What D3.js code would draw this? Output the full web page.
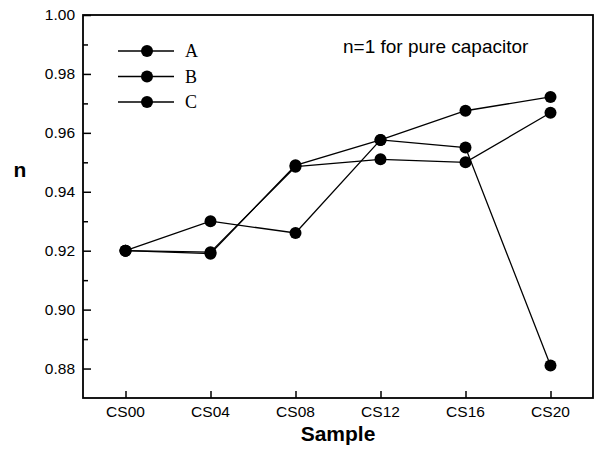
<!DOCTYPE html>
<html>
<head>
<meta charset="utf-8">
<script src="https://cdn.jsdelivr.net/npm/d3@7"></script>
<style>
  body { margin: 0; background: #fff; }
  svg { display: block; }
  .tick-label { font-family: "Liberation Sans", Arial, sans-serif; font-size: 15.5px; fill: #000; }
</style>
</head>
<body>
<div id="chart-container"></div>
<script>
/* n vs sample plot */

const samples = ["CS00", "CS04", "CS08", "CS12", "CS16", "CS20"];
const seriesA = [0.920, 0.919, 0.949, 0.9576, 0.9675, 0.9722];
const seriesB = [0.920, 0.930, 0.926, 0.9576, 0.955, 0.881];
const seriesC = [0.920, 0.9195, 0.9485, 0.951, 0.950, 0.9668];
const seriesNames = ["A", "B", "C"];
const yTicks = [0.88, 0.90, 0.92, 0.94, 0.96, 0.98, 1.00];
const yMinorTicks = [0.89, 0.91, 0.93, 0.95, 0.97, 0.99];

function create_chart() {
  let height = 449,
    width = 598,
    margin = { top: 15, right: 5, bottom: 51, left: 83 };

  const svg = d3
    .select("#chart-container")
    .append("svg")
    .attr("width", width)
    .attr("height", height);

  let x = d3
    .scalePoint()
    .domain(samples)
    .range([margin.left, width - margin.right])
    .padding(0.5);

  let y = d3
    .scaleLinear()
    .domain([0.87, 1.0])
    .range([height - margin.bottom, margin.top]);

  let series = [seriesA, seriesB, seriesC].map((vals, i) => ({
    name: seriesNames[i],
    values: vals.map((v, j) => ({ s: samples[j], v: v })),
  }));

  // frame
  svg
    .append("rect")
    .attr("x", margin.left)
    .attr("y", margin.top)
    .attr("width", width - margin.left - margin.right)
    .attr("height", height - margin.top - margin.bottom)
    .style("fill", "none")
    .style("stroke", "#000")
    .style("stroke-width", 1.8);

  // y axis (ticks inward)
  let yAxis = svg
    .append("g")
    .attr("transform", `translate(${margin.left},0)`)
    .call(
      d3.axisRight(y).tickValues(yTicks).tickSize(8).tickFormat("")
    );
  yAxis.select(".domain").remove();
  yAxis.selectAll("line").style("stroke-width", 1.5);

  let yMinor = svg
    .append("g")
    .attr("transform", `translate(${margin.left},0)`)
    .call(d3.axisRight(y).tickValues(yMinorTicks).tickSize(5).tickFormat(""));
  yMinor.select(".domain").remove();
  yMinor.selectAll("line").style("stroke-width", 1.5);

  svg
    .append("g")
    .selectAll("text")
    .data(yTicks)
    .join("text")
    .attr("class", "tick-label")
    .attr("x", margin.left - 8)
    .attr("y", (d) => y(d))
    .attr("dy", "0.35em")
    .attr("text-anchor", "end")
    .text((d) => d3.format(".2f")(d));

  // x axis (ticks inward)
  let xAxis = svg
    .append("g")
    .attr("transform", `translate(0,${height - margin.bottom})`)
    .call(d3.axisTop(x).tickSize(7).tickFormat(""));
  xAxis.select(".domain").remove();
  xAxis.selectAll("line").style("stroke-width", 1.5);

  svg
    .append("g")
    .selectAll("text")
    .data(samples)
    .join("text")
    .attr("class", "tick-label")
    .attr("x", (d) => x(d))
    .attr("y", height - margin.bottom + 19)
    .attr("text-anchor", "middle")
    .text((d) => d);

  // lines
  let line = d3
    .line()
    .x((d) => x(d.s))
    .y((d) => y(d.v));

  svg
    .append("g")
    .selectAll("path")
    .data(series)
    .join("path")
    .attr("d", (d) => line(d.values))
    .style("fill", "none")
    .style("stroke", "#000")
    .style("stroke-width", 1.3);

  svg
    .append("g")
    .selectAll("circle")
    .data(series.flatMap((d) => d.values))
    .join("circle")
    .attr("cx", (d) => x(d.s))
    .attr("cy", (d) => y(d.v))
    .attr("r", 6)
    .style("fill", "#000");

  // legend
  let legend = svg
    .append("g")
    .selectAll("g")
    .data(seriesNames)
    .join("g")
    .attr("transform", (d, i) => `translate(118,${51 + i * 25.5})`);

  legend
    .append("line")
    .attr("x1", 0)
    .attr("x2", 56)
    .style("stroke", "#000")
    .style("stroke-width", 1.3);

  legend.append("circle").attr("cx", 29).attr("r", 6).style("fill", "#000");

  legend
    .append("text")
    .attr("x", 67)
    .attr("dy", "0.35em")
    .style("font-family", "'Liberation Serif', 'Times New Roman', serif")
    .style("font-size", "18px")
    .text((d) => d);

  // annotation
  svg
    .append("text")
    .attr("x", 343)
    .attr("y", 53)
    .style("font-family", "'Liberation Sans', Arial, sans-serif")
    .style("font-size", "19px")
    .text("n=1 for pure capacitor");

  // axis titles
  svg
    .append("text")
    .attr("x", x("CS08") + (x("CS12") - x("CS08")) / 2)
    .attr("y", 441)
    .attr("text-anchor", "middle")
    .style("font-family", "'Liberation Sans', Arial, sans-serif")
    .style("font-size", "21px")
    .style("font-weight", "bold")
    .text("Sample");

  svg
    .append("text")
    .attr("x", 20)
    .attr("y", 177)
    .attr("text-anchor", "middle")
    .style("font-family", "'Liberation Sans', Arial, sans-serif")
    .style("font-size", "21px")
    .style("font-weight", "bold")
    .text("n");
}

create_chart();
</script>
</body>
</html>
